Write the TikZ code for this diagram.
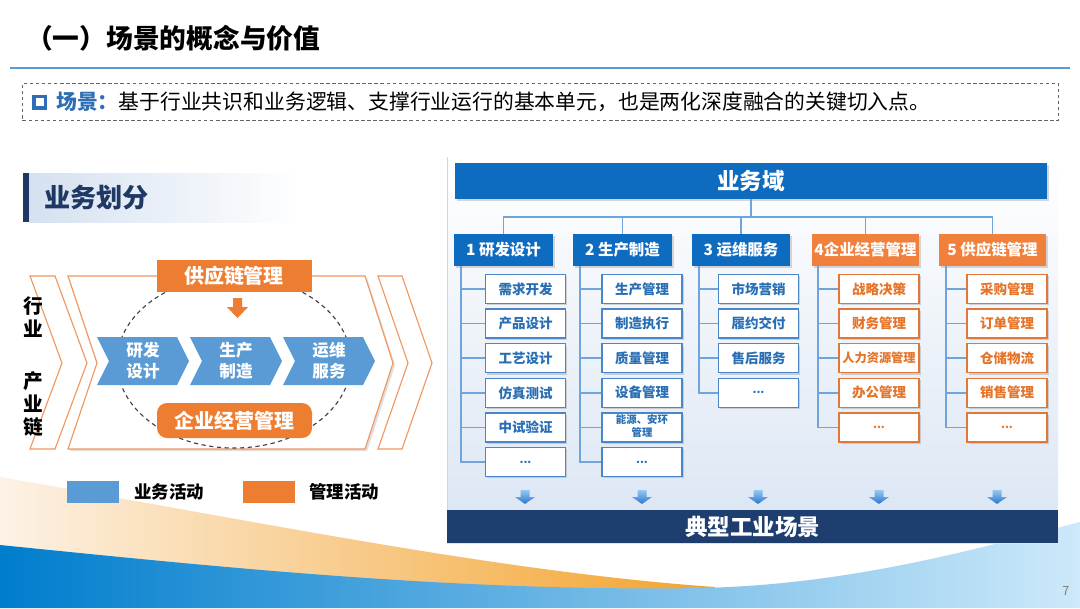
\documentclass[tikz,border=0pt]{standalone}
\usepackage{fontspec}
\setmainfont{Noto Sans CJK SC}
\usetikzlibrary{shadows,calc}
\definecolor{tline}{RGB}{91,155,213}
\definecolor{iconblue}{RGB}{46,110,180}
\definecolor{dashgray}{RGB}{100,100,100}
\definecolor{navy}{RGB}{31,56,100}
\definecolor{hdrbg}{RGB}{213,225,240}
\definecolor{bizblue}{RGB}{91,155,213}
\definecolor{orgfill}{RGB}{237,125,49}
\definecolor{oline2}{RGB}{240,150,95}
\definecolor{domblue}{RGB}{14,108,192}
\definecolor{catblue}{RGB}{14,108,192}
\definecolor{catorg}{RGB}{240,128,60}
\definecolor{subline}{RGB}{75,135,200}
\definecolor{subtext}{RGB}{40,110,180}
\definecolor{oline}{RGB}{225,120,55}
\definecolor{otext}{RGB}{230,115,40}
\definecolor{treeblue}{RGB}{110,165,220}
\definecolor{arrL}{RGB}{150,200,240}
\definecolor{arrD}{RGB}{40,120,210}
\definecolor{botnavy}{RGB}{31,62,112}
\definecolor{panelbot}{RGB}{218,229,243}
\definecolor{orgL}{RGB}{253,242,230}
\definecolor{orgR}{RGB}{243,163,45}
\definecolor{bluL}{RGB}{0,125,205}
\definecolor{bluM}{RGB}{0,172,236}
\definecolor{bluR}{RGB}{205,233,250}
\newcommand\pxu{0.025cm}
\newcommand\fs[2]{\fontsize{#1}{#2}\selectfont}
\newcommand\ddd{{\fs{8}{9}...}}
\newcommand\hritem{{\fs{8.7}{10}人力资源管理}}
\newcommand\nyitem{{\fs{7.4}{8.4}\begin{tabular}{@{}c@{}}能源、安环\\管理\end{tabular}}}
\newcommand\subcol[5]{%
  \foreach \t [count=\i] in {#5} {
    \draw[tree] (#4v) |- ($(#2, {289+34.6*(\i-1)})+(-40,0)$);
    \node[#3] (#1\i) at (#2, {289+34.6*(\i-1)}) {\t};
  }%
}
\begin{document}
\begin{tikzpicture}[x=0.025cm,y=-0.025cm,
  shad/.style={drop shadow={shadow xshift=1.3pt, shadow yshift=-1.3pt, opacity=0.3}},
  sub/.style={draw=subline, line width=0.9pt, fill=white, text=subtext,
    minimum width=80*\pxu, minimum height=29*\pxu, inner sep=0pt,
    font={\bfseries\fs{9.6}{11}}, shad},
  osub/.style={sub, draw=oline, text=otext},
  cat/.style={fill=catblue, text=white, minimum height=32*\pxu, inner sep=0pt,
    font={\bfseries\fs{11}{13}}, shad},
  ocat/.style={cat, fill=catorg},
  tree/.style={draw=treeblue, line width=1.2pt},
  chtext/.style={text=white, font={\bfseries\fs{11.8}{15}}, align=center, inner sep=0pt},
  oline/.style={draw=oline2, line width=0.8pt},
  lgtext/.style={anchor=west, font={\bfseries\fs{12.4}{14}}, inner sep=0pt}
]
\useasboundingbox (0,0) rectangle (1080,608);
\fill[white] (0,0) rectangle (1080,608);

% bottom swooshes
\shade[left color=orgL, right color=orgR] (0,477) .. controls (250,520) and (500,572) .. (715,587) -- (715,600) -- (0,600) -- cycle;
\shade[left color=bluL, middle color=bluM, right color=bluR] (0,545) .. controls (200,565) and (450,592) .. (700,588) .. controls (850,585) and (980,548) .. (1080,522) -- (1080,608) -- (0,608) -- cycle;
\node[text=gray, font=\fs{9}{10}, inner sep=0pt] (pg) at (1066,591) {7};

% title
\node[anchor=west, inner sep=0pt, font={\bfseries\fs{19}{22}}] (title) at (26,38) {（一）场景的概念与价值};
\draw[tline, line width=1.5pt] (10,68) -- (1070,68);

% definition box
\node[draw=dashgray, dashed, dash pattern=on 2.5pt off 1.8pt, line width=0.7pt,
  minimum width=1036*\pxu, minimum height=37*\pxu, anchor=north west, inner sep=0pt] (defbox) at (22,83) {};
\draw[iconblue, line width=2.2pt] (34,96.5) rectangle (45.5,108);
\node[anchor=west, inner sep=0pt, font=\fs{14.8}{17}] (deftext) at (56,102)
  {{\color{iconblue}\bfseries 场景：}基于行业共识和业务逻辑、支撑行业运行的基本单元，也是两化深度融合的关键切入点。};

% section header
\shade[left color=hdrbg, right color=white] (29,173) rectangle (300,222);
\fill[navy] (23,173) rectangle (29,222);
\node[anchor=west, inner sep=0pt, text=navy, font={\bfseries\fs{18.6}{21}}] (hdr) at (44,198) {业务划分};

% left diagram
\path[oline, fill=white, drop shadow={shadow xshift=1.5pt, shadow yshift=-1.5pt, opacity=0.25}]
  (68,276) -- (365,276) -- (393,363) -- (365,449) -- (68,449) -- (97,363) -- cycle;
\draw[oline] (30,276) -- (55,276) -- (87,363) -- (55,449) -- (30,449) -- (62,363) -- cycle;
\draw[oline] (378,276) -- (402,276) -- (432,363) -- (402,449) -- (378,449) -- (408,363) -- cycle;
\draw[dashed, dash pattern=on 3pt off 2.5pt, line width=0.8pt, black!75] (234,362) ellipse [x radius=2.925cm, y radius=2.15cm];

\fill[bizblue] (97,337) -- (177,337) -- (189,361) -- (177,385) -- (97,385) -- (109,361) -- cycle;
\fill[bizblue] (190,337) -- (270,337) -- (282,361) -- (270,385) -- (190,385) -- (202,361) -- cycle;
\fill[bizblue] (283,337) -- (363,337) -- (375,361) -- (363,385) -- (283,385) -- (295,361) -- cycle;
\node[chtext] (ch1) at (143,361) {研发\\设计};
\node[chtext] (ch2) at (236,361) {生产\\制造};
\node[chtext] (ch3) at (329,361) {运维\\服务};

\node[fill=orgfill, text=white, minimum width=155*\pxu, minimum height=32*\pxu,
  font={\bfseries\fs{14.2}{16}}, inner sep=0pt] (scm) at (234,276) {供应链管理};
\fill[orgfill] (233,298) -- (242,298) -- (242,307) -- (248,307) -- (237.5,318) -- (227,307) -- (233,307) -- cycle;
\node[fill=orgfill, text=white, rounded corners=0.25cm, minimum width=155*\pxu, minimum height=35*\pxu,
  font={\bfseries\fs{14.2}{16}}, inner sep=0pt] (mgmt) at (234.5,420.5) {企业经营管理};

\node[font={\bfseries\fs{14}{16.6}}, align=center, inner sep=0pt] (hy) at (33,317) {行\\业};
\node[font={\bfseries\fs{14}{16.6}}, align=center, inner sep=0pt] (cyl) at (33,404) {产\\业\\链};

% legend
\node[fill=bizblue, minimum width=52*\pxu, minimum height=22*\pxu, inner sep=0pt] (lg1) at (93,492) {};
\node[lgtext] (lg1t) at (134,492) {业务活动};
\node[fill=orgfill, minimum width=52*\pxu, minimum height=22*\pxu, inner sep=0pt] (lg2) at (269,492) {};
\node[lgtext] (lg2t) at (309,492) {管理活动};

% right panel
\shade[top color=white, bottom color=panelbot] (447,157) rectangle (1058,543);
\draw[panelbot!85!gray, line width=0.5pt] (447,157) -- (447,543);

\node[fill=domblue, minimum width=592*\pxu, minimum height=36*\pxu, text=white, inner sep=0pt,
  font={\bfseries\fs{16}{18}}, shad] (dom) at (751,181) {业务域};

\node[cat, minimum width=99*\pxu] (c1) at (503.5,250) {1 研发设计};
\node[cat, minimum width=99*\pxu] (c2) at (622.5,250) {2 生产制造};
\node[cat, minimum width=98*\pxu] (c3) at (741,250) {3 运维服务};
\node[ocat, minimum width=107*\pxu] (c4) at (865.5,250) {4企业经营管理};
\node[ocat, minimum width=107*\pxu] (c5) at (992.5,250) {5 供应链管理};

\coordinate (hub) at (751,217);
\draw[tree] (dom.south) -- (hub);
\draw[tree] (c1.north) |- (hub) -| (c5.north);
\draw[tree] (c2.north) -- (c2.north |- hub);
\draw[tree] (c3.north) -- (c3.north |- hub);
\draw[tree] (c4.north) -- (c4.north |- hub);

\coordinate (c1v) at ($(c1.south west)+(7,0)$);
\coordinate (c2v) at ($(c2.south west)+(7,0)$);
\coordinate (c3v) at ($(c3.south west)+(7,0)$);
\coordinate (c4v) at ($(c4.south west)+(6,0)$);
\coordinate (c5v) at ($(c5.south west)+(7,0)$);

\subcol{a}{525.5}{sub}{c1}{需求开发,产品设计,工艺设计,仿真测试,中试验证,\ddd}
\subcol{b}{642}{sub}{c2}{生产管理,制造执行,质量管理,设备管理,\nyitem,\ddd}
\subcol{c}{758.5}{sub}{c3}{市场营销,履约交付,售后服务,\ddd}
\subcol{d}{879}{osub}{c4}{战略决策,财务管理,\hritem,办公管理,\ddd}
\subcol{e}{1007}{osub}{c5}{采购管理,订单管理,仓储物流,销售管理,\ddd}

\foreach \x in {525,642,758,879,997} {
  \shade[top color=arrL, bottom color=arrD] (\x-4.5,490) -- (\x+4.5,490) -- (\x+4.5,497) -- (\x+10,497) -- (\x,504) -- (\x-10,497) -- (\x-4.5,497) -- cycle;
}

\node[fill=botnavy, minimum width=611*\pxu, minimum height=33*\pxu, text=white, inner sep=0pt,
  font={\bfseries\fs{16}{18}}] (typ) at (752.5,526.5) {典型工业场景};
\end{tikzpicture}
\end{document}
